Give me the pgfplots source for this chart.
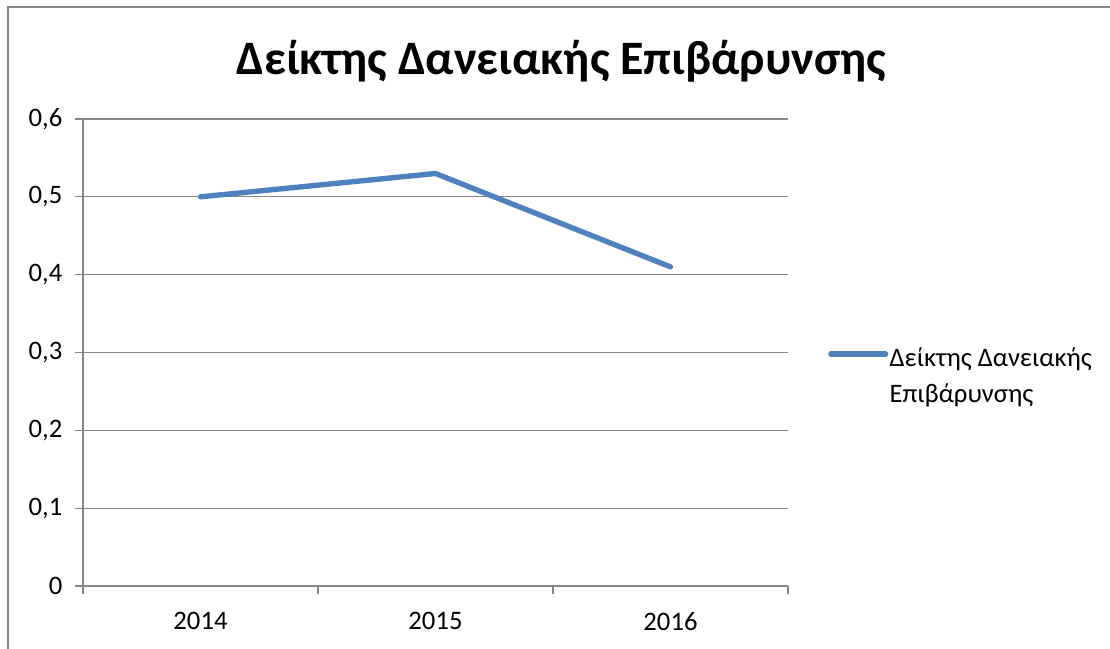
\documentclass[border=0pt]{standalone}
\usepackage{pgfplots}
\pgfplotsset{compat=1.18}
\usepackage{fontspec}
\setmainfont{Carlito}
\definecolor{exblue}{HTML}{4F81BD}
\definecolor{exgray}{HTML}{868686}
\begin{document}
\begin{tikzpicture}[x=0.75pt,y=0.75pt]
\useasboundingbox (0,0) rectangle (1110,649);
\draw[exgray, line width=1.5pt] (8,0) -- (8,642) -- (1110,642);
\node[font=\fontsize{36}{43}\selectfont\bfseries] at (561,588) {Δείκτης Δανειακής Επιβάρυνσης};
\begin{axis}[
  at={(62.25pt,47.25pt)}, anchor=south west,
  scale only axis, width=528.75pt, height=350.25pt,
  xmin=0.5, xmax=3.5, ymin=0, ymax=0.6,
  axis lines*=left,
  axis line style={exgray, line width=0.9pt},
  xtick={0.5,1.5,2.5,3.5}, xticklabels={},
  extra x ticks={1,2,3}, extra x tick labels={2014,2015,2016},
  extra x tick style={major tick length=0pt, grid=none},
  ytick={0,0.1,0.2,0.3,0.4,0.5,0.6},
  tick align=outside, major tick length=6pt,
  tick style={exgray, line width=0.9pt},
  ymajorgrids, grid style={exgray, line width=0.9pt},
  /pgf/number format/assume math mode=true,
  /pgf/number format/.cd, use comma, fixed, precision=1, /tikz/.cd,
  ticklabel style={font=\fontsize{20}{24}\selectfont},
  yticklabel style={xshift=-6pt},
  xticklabel style={yshift=-16pt},
  legend style={draw=none, fill=none, at={(1.0567,0.471)}, anchor=west,
    font=\fontsize{20}{23}\selectfont, inner sep=0pt,
    nodes={inner sep=1pt}},
  legend cell align=left,
  legend image code/.code={\path[draw=none,fill=none] (0pt,-9pt) rectangle (1pt,9pt);\draw[#1, line cap=round] (0pt,9pt) -- (41pt,9pt);},
  clip=false,
]
\addplot[exblue, line width=4pt, line cap=round, line join=round] coordinates {(1,0.5) (2,0.53) (3,0.41)};
\addlegendentry{\begin{tabular}{@{}l@{}}Δείκτης Δανειακής\\[4pt]Επιβάρυνσης\end{tabular}}
\end{axis}
\end{tikzpicture}
\end{document}
